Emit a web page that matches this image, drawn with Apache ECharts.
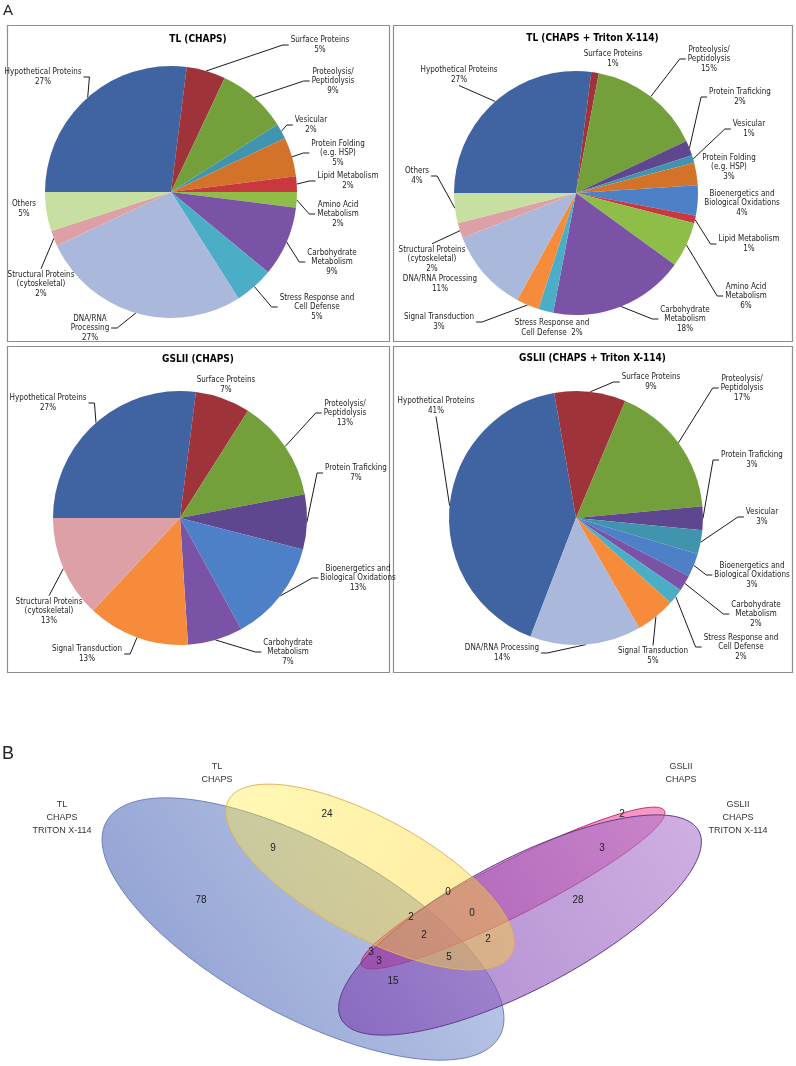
<!DOCTYPE html>
<html>
<head>
<meta charset="utf-8">
<script src="https://cdn.jsdelivr.net/npm/echarts@6/dist/echarts.min.js"></script>
<style>html,body{margin:0;padding:0;background:#fff}#c{width:796px;height:1066px}</style>
</head>
<body>
<div id="c"></div>
<script>
// ================= DATA =================
const pieTitles = ['TL (CHAPS)', 'TL (CHAPS + Triton X-114)', 'GSLII (CHAPS)', 'GSLII (CHAPS + Triton X-114)'];

const pie1Names = ['Hypothetical Proteins', 'Surface Proteins', 'Proteolysis/\nPeptidolysis', 'Vesicular',
  'Protein Folding\n(e.g. HSP)', 'Lipid Metabolism', 'Amino Acid\nMetabolism', 'Carbohydrate\nMetabolism',
  'Stress Response and\nCell Defense', 'DNA/RNA\nProcessing', 'Structural Proteins\n(cytoskeletal)', 'Others'];
const pie1Values = [27, 5, 9, 2, 5, 2, 2, 9, 5, 27, 2, 5];

const pie2Names = ['Hypothetical Proteins', 'Surface Proteins', 'Proteolysis/\nPeptidolysis', 'Protein Traficking',
  'Vesicular', 'Protein Folding\n(e.g. HSP)', 'Bioenergetics and\nBiological Oxidations', 'Lipid Metabolism',
  'Amino Acid\nMetabolism', 'Carbohydrate\nMetabolism', 'Stress Response and\nCell Defense', 'Signal Transduction',
  'DNA/RNA Processing', 'Structural Proteins\n(cytoskeletal)', 'Others'];
const pie2Values = [27, 1, 15, 2, 1, 3, 4, 1, 6, 18, 2, 3, 11, 2, 4];

const pie3Names = ['Hypothetical Proteins', 'Surface Proteins', 'Proteolysis/\nPeptidolysis', 'Protein Traficking',
  'Bioenergetics and\nBiological Oxidations', 'Carbohydrate\nMetabolism', 'Signal Transduction',
  'Structural Proteins\n(cytoskeletal)'];
const pie3Values = [27, 7, 13, 7, 13, 7, 13, 13];

const pie4Names = ['Hypothetical Proteins', 'Surface Proteins', 'Proteolysis/\nPeptidolysis', 'Protein Traficking',
  'Vesicular', 'Bioenergetics and\nBiological Oxidations', 'Carbohydrate\nMetabolism',
  'Stress Response and\nCell Defense', 'Signal Transduction', 'DNA/RNA Processing'];
const pie4Values = [41, 9, 17, 3, 3, 3, 2, 2, 5, 14];

const vennSetNames = ['TL\nCHAPS\nTRITON X-114', 'TL\nCHAPS', 'GSLII\nCHAPS', 'GSLII\nCHAPS\nTRITON X-114'];
const vennCounts = [24, 9, 78, 3, 3, 15, 0, 0, 2, 2, 2, 5, 2, 3, 28];

// ================= LAYOUT / STYLE =================
const LABEL_FONT = '"Liberation Sans Narrow", "DejaVu Sans Condensed", "Liberation Sans", sans-serif';
const SANS = '"Liberation Sans", Arial, sans-serif';

const colorMap = {
  'Hypothetical Proteins': '#4063A1',
  'Surface Proteins': '#9E3439',
  'Proteolysis/ Peptidolysis': '#74A03B',
  'Vesicular': '#4094AD',
  'Protein Folding (e.g. HSP)': '#D3732A',
  'Lipid Metabolism': '#C9383F',
  'Amino Acid Metabolism': '#8EBE47',
  'Carbohydrate Metabolism': '#7A53A7',
  'Stress Response and Cell Defense': '#4CADC7',
  'DNA/RNA Processing': '#AAB8DB',
  'Structural Proteins (cytoskeletal)': '#DDA0A6',
  'Others': '#C7DFA1',
  'Protein Traficking': '#5F4790',
  'Bioenergetics and Biological Oxidations': '#4E80C8',
  'Signal Transduction': '#F68B3C'
};
function colorOf(n) { return colorMap[n.replace(/\n/g, ' ')] || '#999'; }

const pieLayouts = [
  { center: [171, 192], r: 126, start: 180, box: [7, 25, 382, 316], titleY: 39 },
  { center: [576, 193], r: 122, start: 180, box: [393, 25, 399, 316], titleY: 38 },
  { center: [180, 518], r: 127, start: 180, box: [7, 346, 382, 326], titleY: 359 },
  { center: [576, 518], r: 127, start: 249, box: [393, 346, 399, 326], titleY: 358 }
];

const pieLabelPos = [
  [[43, 77], [320, 45], [333, 81], [311, 125], [338, 153], [348, 181], [338, 214], [332, 262], [317, 307], [90, 328], [41, 284], [24, 209]],
  [[459, 75], [613, 59], [709, 59], [740, 97], [749, 129], [729, 167], [742, 203], [749, 244], [746, 296], [685, 319], [552, 328], [439, 322], [440, 284], [432, 259], [417, 176]],
  [[48, 403], [226, 385], [345, 413], [356, 473], [358, 578], [288, 652], [87, 654], [49, 611]],
  [[436, 406], [651, 382], [742, 388], [752, 460], [762, 517], [752, 575], [756, 614], [741, 647], [653, 656], [502, 653]]
];

// Panel B geometry in panel units (x: 0..796, y: 0..386 from the top of panel B)
const vennEllipses = [
  [303, 249, 224, 86, 28.6],   // TL CHAPS TRITON X-114
  [513, 208, 170, 27, -27],    // GSLII CHAPS
  [520, 245, 202, 65, -27.7],  // GSLII CHAPS TRITON X-114
  [370, 197, 161, 59, 28.6]    // TL CHAPS
];
const vennStyles = [
  { g: [1, 0, 0, 1], c0: 'rgba(196,208,236,1)', c1: 'rgba(136,153,206,1)', stroke: '#6C81BD' },
  { g: [1, 0, 0, 1], c0: 'rgba(236,70,150,0.55)', c1: 'rgba(214,30,120,0.55)', stroke: '#C2306E' },
  { g: [1, 0, 0, 1], c0: 'rgba(176,122,206,0.6)', c1: 'rgba(120,62,176,0.62)', stroke: '#5E3D8A' },
  { g: [0, 0, 1, 1], c0: 'rgba(255,238,60,0.38)', c1: 'rgba(255,205,40,0.45)', stroke: '#E2B25A' }
];
const vennCountPos = [[327, 134], [273, 168], [201, 220], [371, 272], [379, 281], [393, 301],
  [448, 212], [472, 233], [411, 237], [424, 255], [488, 259], [449, 277], [622, 134], [602, 168], [578, 220]];
const vennSetPos = [[62, 138], [217, 93], [681, 93], [738, 138]];

// ================= BUILD =================
const pieNames = [pie1Names, pie2Names, pie3Names, pie4Names];
const pieValues = [pie1Values, pie2Values, pie3Values, pie4Values];

function labelFormatter(p) {
  if (p.seriesIndex === 1 && p.name.indexOf('Stress') === 0) return p.name + '  ' + p.value + '%';
  return p.name + '\n' + p.value + '%';
}

function makeLabelLayout(k) {
  return function (params) {
    const pos = pieLabelPos[k][params.dataIndex];
    if (!pos) return {};
    const w = params.labelRect.width, h = params.labelRect.height;
    const res = { x: pos[0], y: pos[1], align: 'center', verticalAlign: 'middle' };
    const pts = params.labelLinePoints;
    if (pts && pts[0]) {
      const p0 = pts[0];
      const dx = p0[0] - pos[0], dy = p0[1] - pos[1];
      let a, e;
      if (Math.abs(dx) < w / 2) {
        const s = dy > 0 ? 1 : -1;
        a = [pos[0], pos[1] + s * (h / 2 + 1)];
        e = a.slice();
      } else {
        const s = dx > 0 ? 1 : -1;
        a = [pos[0] + s * (w / 2 + 2), pos[1]];
        e = [pos[0] + s * (w / 2 + 8), pos[1]];
      }
      const gx = Math.max(0, Math.abs(dx) - w / 2), gy = Math.max(0, Math.abs(dy) - h / 2);
      res.labelLinePoints = Math.hypot(gx, gy) < 12 ? [p0, p0, p0] : [p0, e, a];
    }
    return res;
  };
}

const series = [];
pieLayouts.forEach(function (L, k) {
  series.push({
    type: 'pie',
    center: L.center,
    radius: L.r,
    startAngle: L.start,
    clockwise: true,
    silent: true,
    animation: false,
    avoidLabelOverlap: false,
    emphasis: { disabled: true, scale: false },
    itemStyle: { borderWidth: 0 },
    data: pieNames[k].map(function (n, i) {
      return { name: n, value: pieValues[k][i], itemStyle: { color: colorOf(n) } };
    }),
    label: {
      show: true, position: 'outside', formatter: labelFormatter,
      fontFamily: LABEL_FONT, fontSize: 8, lineHeight: 9.5, color: '#222', align: 'center'
    },
    labelLine: { show: true, length: 6, length2: 6, smooth: false, lineStyle: { color: '#1a1a1a', width: 1 } },
    labelLayout: makeLabelLayout(k)
  });
});

function ellipsePoints(api, cx, cy, a, b, rotDeg) {
  const r = rotDeg * Math.PI / 180, cr = Math.cos(r), sr = Math.sin(r);
  const pts = [];
  for (let i = 0; i < 200; i++) {
    const t = i / 200 * Math.PI * 2;
    const x = cx + a * cr * Math.cos(t) - b * sr * Math.sin(t);
    const y = cy + a * sr * Math.cos(t) + b * cr * Math.sin(t);
    pts.push(api.coord([x, y]));
  }
  return pts;
}

series.push({
  type: 'custom', coordinateSystem: 'cartesian2d', xAxisIndex: 0, yAxisIndex: 0,
  silent: true, animation: false, clip: false, z: 1,
  data: vennEllipses,
  renderItem: function (params, api) {
    const st = vennStyles[params.dataIndex];
    const pts = ellipsePoints(api, api.value(0), api.value(1), api.value(2), api.value(3), api.value(4));
    return {
      type: 'polygon', shape: { points: pts },
      style: {
        fill: new echarts.graphic.LinearGradient(st.g[0], st.g[1], st.g[2], st.g[3],
          [{ offset: 0, color: st.c0 }, { offset: 1, color: st.c1 }]),
        stroke: st.stroke, lineWidth: 1
      }
    };
  }
});

series.push({
  type: 'custom', coordinateSystem: 'cartesian2d', xAxisIndex: 0, yAxisIndex: 0,
  silent: true, animation: false, clip: false, z: 5,
  data: vennCountPos.map(function (p, i) { return [p[0], p[1], vennCounts[i]]; }),
  renderItem: function (params, api) {
    const c = api.coord([api.value(0), api.value(1)]);
    return {
      type: 'text', x: c[0], y: c[1],
      style: { text: String(vennCounts[params.dataIndex]), fill: '#222', font: '10px ' + SANS, align: 'center', verticalAlign: 'middle' }
    };
  }
});

series.push({
  type: 'custom', coordinateSystem: 'cartesian2d', xAxisIndex: 0, yAxisIndex: 0,
  silent: true, animation: false, clip: false, z: 5,
  data: vennSetPos.map(function (p) { return [p[0], p[1]]; }),
  renderItem: function (params, api) {
    const c = api.coord([api.value(0), api.value(1)]);
    return {
      type: 'text', x: c[0], y: c[1],
      style: { text: vennSetNames[params.dataIndex], fill: '#333', font: '9px ' + SANS, lineHeight: 13, align: 'center', verticalAlign: 'middle' }
    };
  }
});

const graphics = [];
pieLayouts.forEach(function (L, k) {
  graphics.push({
    type: 'rect', silent: true,
    shape: { x: L.box[0] + 0.5, y: L.box[1] + 0.5, width: L.box[2], height: L.box[3] },
    style: { fill: 'none', stroke: '#8e8e8e', lineWidth: 1.2 }
  });
  graphics.push({
    type: 'text', silent: true, x: L.box[0] + L.box[2] / 2, y: L.titleY,
    style: { text: pieTitles[k], font: 'bold 10px ' + LABEL_FONT, fill: '#000', align: 'center', verticalAlign: 'middle' }
  });
});
graphics.push({ type: 'text', silent: true, x: 3, y: 3, style: { text: 'A', font: '15px ' + SANS, fill: '#222', align: 'left', verticalAlign: 'top' } });
graphics.push({ type: 'text', silent: true, x: 2, y: 745, style: { text: 'B', font: '18px ' + SANS, fill: '#222', align: 'left', verticalAlign: 'top' } });

const option = {
  backgroundColor: '#ffffff',
  animation: false,
  grid: [{ left: 0, top: 680, width: 796, height: 386, show: false, containLabel: false, outerBoundsMode: 'none' }],
  xAxis: [{ type: 'value', min: 0, max: 796, show: false, gridIndex: 0 }],
  yAxis: [{ type: 'value', min: 0, max: 386, inverse: true, show: false, gridIndex: 0 }],
  tooltip: { show: false },
  series: series,
  graphic: graphics
};

const chart = echarts.init(document.getElementById('c'), null, { renderer: 'canvas' });
chart.setOption(option);
</script>
</body>
</html>
